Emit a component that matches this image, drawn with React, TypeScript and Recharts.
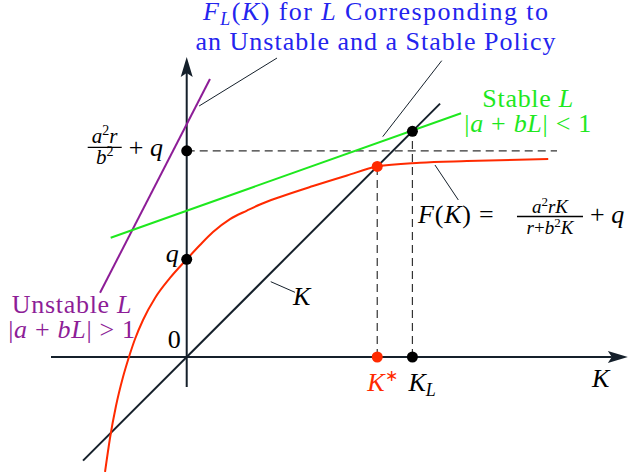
import React from "react";
import { ComposedChart, Line, XAxis, YAxis, ReferenceLine, ReferenceDot } from "recharts";

// all quantities are in units of q
const q = 1;
const asymptote = 2.11; // a^2 r / b^2 + q
const kStar = 1.95; // fixed point of F
const kL = 2.31; // fixed point of F_L for the stable policy

// F(K) = a^2 r K / (r + b^2 K) + q
const riccatiK = [-0.836, -0.785, -0.724, -0.652, -0.591, -0.529, -0.447, -0.324, -0.171, 0, 0.136, 0.269, 0.443, 0.617, 0.75, 0.955, 1.293, 1.641, 1.95, 2.388, 2.869, 3.7];
const riccatiF = [-1.177, -0.829, -0.502, -0.205, 0, 0.184, 0.379, 0.604, 0.809, 1.0, 1.146, 1.279, 1.412, 1.499, 1.561, 1.638, 1.75, 1.858, 1.95, 1.989, 2.006, 2.027];

// F_L(K) for an unstable and a stable policy L
const unstableK = [-0.887, 0.238];
const unstableF = [0.658, 2.845];
const stableK = [-0.778, 2.808];
const stableF = [1.221, 2.495];

// the 45 degree line
const diagK = [-1.061, 2.593];

const xRange: [number, number] = [-1.911, 4.537];
const yRange: [number, number] = [-1.177, 3.654];

// callout strokes: [x1, y1, x2, y2]
const leaders = [
  [0.127, 2.569, 0.924, 3.06],
  [2.006, 2.255, 2.61, 3.033],
  [2.541, 1.965, 2.78, 1.607],
  [0.86, 0.771, 1.108, 0.662],
];

const AXIS = "#15202b";
const RED = "#ff2a00";
const GREEN = "#1ee81e";
const PURPLE = "#8d1d97";
const BLUE = "#2424ee";
const SERIF = '"Liberation Serif", "Times New Roman", serif';
const FS = 26;

const pts = (xs: number[], ys: number[]) => xs.map((x, i) => ({ x, y: ys[i] }));

const Arrow = (p: any) => {
  const { x1, y1, x2, y2 } = p;
  const len = Math.hypot(x2 - x1, y2 - y1);
  const ux = (x2 - x1) / len;
  const uy = (y2 - y1) / len;
  const head = 20;
  const half = 6;
  const bx = x2 - ux * head;
  const by = y2 - uy * head;
  return (
    <g>
      <line x1={x1} y1={y1} x2={bx + ux * 4} y2={by + uy * 4} stroke={AXIS} strokeWidth={2} />
      <path
        d={`M${x2},${y2} L${bx - uy * half},${by + ux * half} L${bx + ux * 4},${by + uy * 4} L${bx + uy * half},${by - ux * half} Z`}
        fill={AXIS}
      />
    </g>
  );
};

const I = (s: string, extra: any = {}) => (
  <tspan fontStyle="italic" {...extra}>
    {s}
  </tspan>
);

const note = (key: string, x: number, y: number, draw: (cx: number, cy: number) => React.ReactNode) => (
  <ReferenceDot
    key={key}
    x={x}
    y={y}
    r={1}
    ifOverflow="visible"
    shape={(p: any) => <g fontFamily={SERIF}>{draw(p.cx, p.cy)}</g>}
  />
);

const series = (key: string, data: { x: number; y: number }[], color: string, curve: "linear" | "monotone") => (
  <Line
    key={key}
    data={data}
    dataKey="y"
    type={curve}
    dot={false}
    activeDot={false}
    stroke={color}
    strokeWidth={2}
    isAnimationActive={false}
  />
);

export default function App() {
  return (
    <div style={{ position: "absolute", left: 0, top: 0, background: "#fff" }}>
      <ComposedChart width={630} height={472} margin={{ top: 0, right: 0, bottom: 0, left: 0 }}>
        <XAxis type="number" dataKey="x" domain={xRange} hide allowDataOverflow />
        <YAxis type="number" dataKey="y" domain={yRange} hide allowDataOverflow />

        <ReferenceLine segment={[{ x: -1.389, y: 0 }, { x: 4.515, y: 0 }]} shape={Arrow} ifOverflow="visible" />
        <ReferenceLine segment={[{ x: 0, y: -0.307 }, { x: 0, y: 3.071 }]} shape={Arrow} ifOverflow="visible" />

        <ReferenceLine segment={[{ x: 0, y: asymptote }, { x: 3.79, y: asymptote }]} stroke="#333" strokeWidth={1.2} strokeDasharray="8 5" ifOverflow="visible" />
        <ReferenceLine segment={[{ x: kStar, y: 0 }, { x: kStar, y: kStar }]} stroke="#333" strokeWidth={1.2} strokeDasharray="8 5" ifOverflow="visible" />
        <ReferenceLine segment={[{ x: kL, y: 0 }, { x: kL, y: kL }]} stroke="#333" strokeWidth={1.2} strokeDasharray="8 5" ifOverflow="visible" />

        {leaders.map((l, i) => (
          <ReferenceLine key={"l" + i} segment={[{ x: l[0], y: l[1] }, { x: l[2], y: l[3] }]} stroke={AXIS} strokeWidth={1} ifOverflow="visible" />
        ))}

        {series("diag", pts(diagK, diagK), AXIS, "linear")}
        {series("unstable", pts(unstableK, unstableF), PURPLE, "linear")}
        {series("stable", pts(stableK, stableF), GREEN, "linear")}
        {series("riccati", pts(riccatiK, riccatiF), RED, "monotone")}

        <ReferenceDot x={0} y={q} r={5.5} fill="#000" stroke="none" />
        <ReferenceDot x={0} y={asymptote} r={5.5} fill="#000" stroke="none" />
        <ReferenceDot x={kStar} y={kStar} r={5.5} fill={RED} stroke="none" />
        <ReferenceDot x={kL} y={kL} r={5.5} fill="#000" stroke="none" />
        <ReferenceDot x={kStar} y={0} r={5.5} fill={RED} stroke="none" />
        <ReferenceDot x={kL} y={0} r={5.5} fill="#000" stroke="none" />

        {note("title", 1.932, 3.46, (cx, cy) => (
          <g fill={BLUE} fontSize={FS}>
            <text x={cx} y={cy + 1} textAnchor="middle" textLength={345} lengthAdjust="spacing">
              {I("F")}
              {I("L", { fontSize: 18, dy: 5 })}
              <tspan dy={-5}>(</tspan>
              {I("K")}
              {") for "}
              {I("L")}
              {" Corresponding to"}
            </text>
            <text x={cx} y={cy + 31} textAnchor="middle" textLength={360} lengthAdjust="spacing">
              an Unstable and a Stable Policy
            </text>
          </g>
        ))}

        {note("cap", 0, asymptote, (cx, cy) => (
          <g fill="#000">
            <text x={cx - 82} y={cy - 8} textAnchor="middle" fontSize={21}>
              {I("a")}
              <tspan fontSize={14} dy={-8}>2</tspan>
              {I("r", { dy: 8 })}
            </text>
            <line x1={cx - 99} x2={cx - 65} y1={cy - 3.5} y2={cy - 3.5} stroke="#000" strokeWidth={1.3} />
            <text x={cx - 82} y={cy + 13} textAnchor="middle" fontSize={21}>
              {I("b")}
              <tspan fontSize={14} dy={-8}>2</tspan>
            </text>
            <text x={cx - 58} y={cy + 5} fontSize={FS}>
              {"+ "}
              {I("q")}
            </text>
          </g>
        ))}

        {note("q", 0, q, (cx, cy) => (
          <text x={cx - 8} y={cy + 3} textAnchor="end" fontSize={FS} fontStyle="italic" fill="#000">q</text>
        ))}

        {note("zero", 0, 0, (cx, cy) => (
          <text x={cx - 6} y={cy - 9} textAnchor="end" fontSize={FS} fill="#000">0</text>
        ))}

        {note("kstar", kStar, 0, (cx, cy) => (
          <text x={cx - 10} y={cy + 34} fontSize={FS} fill={RED}>
            {I("K")}
            <tspan fontSize={16} dy={-10}>∗</tspan>
          </text>
        ))}

        {note("kl", kL, 0, (cx, cy) => (
          <text x={cx - 4} y={cy + 34} fontSize={FS} fill="#000">
            {I("K")}
            {I("L", { fontSize: 18, dy: 5 })}
          </text>
        ))}

        {note("kaxis", 4.149, -0.307, (cx, cy) => (
          <text x={cx} y={cy} fontSize={FS} fontStyle="italic" fill="#000">K</text>
        ))}

        {note("kdiag", 1.088, 0.532, (cx, cy) => (
          <text x={cx} y={cy} fontSize={FS} fontStyle="italic" fill="#000">K</text>
        ))}

        {note("unstable", -1.174, 0.45, (cx, cy) => (
          <g fill={PURPLE} fontSize={FS} letterSpacing={0.7}>
            <text x={cx} y={cy} textAnchor="middle">
              {"Unstable "}
              {I("L")}
            </text>
            <text x={cx} y={cy + 25} textAnchor="middle">
              {"|"}
              {I("a")}
              {" + "}
              {I("bL")}
              {"| > 1"}
            </text>
          </g>
        ))}

        {note("stable", 3.494, 2.559, (cx, cy) => (
          <g fill={GREEN} fontSize={FS} letterSpacing={0.7}>
            <text x={cx} y={cy} textAnchor="middle">
              {"Stable "}
              {I("L")}
            </text>
            <text x={cx} y={cy + 25} textAnchor="middle">
              {"|"}
              {I("a")}
              {" + "}
              {I("bL")}
              {"| < 1"}
            </text>
          </g>
        ))}

        {note("formula", 2.367, 1.372, (cx, cy) => (
          <g fill="#000">
            <text x={cx} y={cy} fontSize={FS} letterSpacing={0.8}>
              {I("F")}
              {"("}
              {I("K")}
              {") ="}
            </text>
            <text x={cx + 132} y={cy - 10} textAnchor="middle" fontSize={19}>
              {I("a")}
              <tspan fontSize={13} dy={-7}>2</tspan>
              {I("rK", { dy: 7 })}
            </text>
            <line x1={cx + 99} x2={cx + 165} y1={cy - 6.5} y2={cy - 6.5} stroke="#000" strokeWidth={1.5} />
            <text x={cx + 132} y={cy + 11} textAnchor="middle" fontSize={19}>
              {I("r")}
              {"+"}
              {I("b")}
              <tspan fontSize={13} dy={-7}>2</tspan>
              {I("K", { dy: 7 })}
            </text>
            <text x={cx + 172} y={cy} fontSize={FS}>
              {"+ "}
              {I("q")}
            </text>
          </g>
        ))}
      </ComposedChart>
    </div>
  );
}
